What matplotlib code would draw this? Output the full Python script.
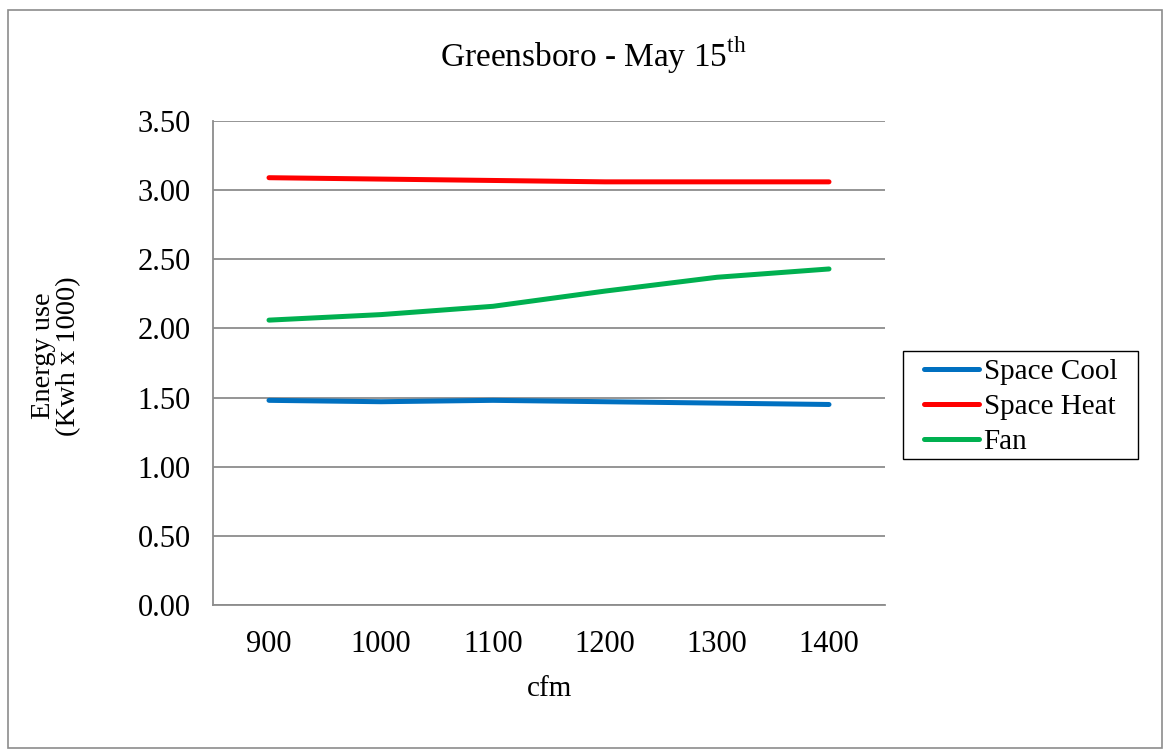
import matplotlib.pyplot as plt
from matplotlib.patches import Rectangle

plt.rcParams['font.family'] = ['Liberation Serif', 'DejaVu Serif']
plt.rcParams['mathtext.fontset'] = 'custom'
plt.rcParams['mathtext.rm'] = 'Liberation Serif'

# data
cfm = ['900', '1000', '1100', '1200', '1300', '1400']
space_cool = [1.48, 1.47, 1.48, 1.47, 1.46, 1.45]
space_heat = [3.09, 3.08, 3.07, 3.06, 3.06, 3.06]
fan = [2.06, 2.10, 2.16, 2.27, 2.37, 2.43]
yticks = [0.0, 0.5, 1.0, 1.5, 2.0, 2.5, 3.0, 3.5]

fig = plt.figure(figsize=(11.7, 7.51), dpi=100)
W, H = 1170, 751
ax = fig.add_axes([213 / W, 1 - 605 / H, 672 / W, 484 / H])

# outer chart border
fig.patches.append(Rectangle((8 / W, 1 - 748 / H), 1154 / W, 738 / H,
                             transform=fig.transFigure, fill=False,
                             edgecolor='#8c8c8c', linewidth=1.2))

x = range(len(cfm))
ax.plot(x, space_cool, color='#0070C0', lw=3.6, solid_capstyle='round', label='Space Cool')
ax.plot(x, space_heat, color='#FF0000', lw=3.6, solid_capstyle='round', label='Space Heat')
ax.plot(x, fan, color='#00B050', lw=3.6, solid_capstyle='round', label='Fan')

ax.set_xlim(-0.5, len(cfm) - 0.5)
ax.set_ylim(0, 3.5)
ax.set_yticks(yticks)
ax.set_yticklabels([f'{v:.2f}' for v in yticks], fontsize=22)
ax.set_xticks(list(x))
ax.set_xticklabels(cfm, fontsize=22)
ax.tick_params(axis='y', length=0, pad=16)
ax.tick_params(axis='x', length=0, pad=18)

ax.grid(axis='y', color='#8c8c8c', linewidth=1.3)
ax.set_axisbelow(True)
for s in ['top', 'right']:
    ax.spines[s].set_visible(False)
for s in ['left', 'bottom']:
    ax.spines[s].set_color('#8c8c8c')
    ax.spines[s].set_linewidth(1.3)

ax.set_xlabel('cfm', fontsize=21, labelpad=12.5)
ax.set_ylabel('Energy use\n(Kwh x 1000)', fontsize=20.5, linespacing=1.0)
ax.yaxis.set_label_coords(-0.196, 0.515)

fig.text(593 / W, 1 - 55 / H, r'Greensboro - May 15$^{\mathrm{th}}$',
         fontsize=24, ha='center', va='center')

# legend box drawn separately so the padding can differ per side
fig.patches.append(Rectangle((903 / W, 1 - 459 / H), 235 / W, 108 / H,
                             transform=fig.transFigure, fill=False,
                             edgecolor='black', linewidth=1.0))
ax.legend(loc='center left', bbox_to_anchor=(924 / W, 1 - 407 / H),
          bbox_transform=fig.transFigure, fontsize=21, frameon=False,
          handlelength=1.9, handletextpad=0.14, borderpad=0,
          labelspacing=0.29, borderaxespad=0)

fig.savefig('out.png', dpi=100)
